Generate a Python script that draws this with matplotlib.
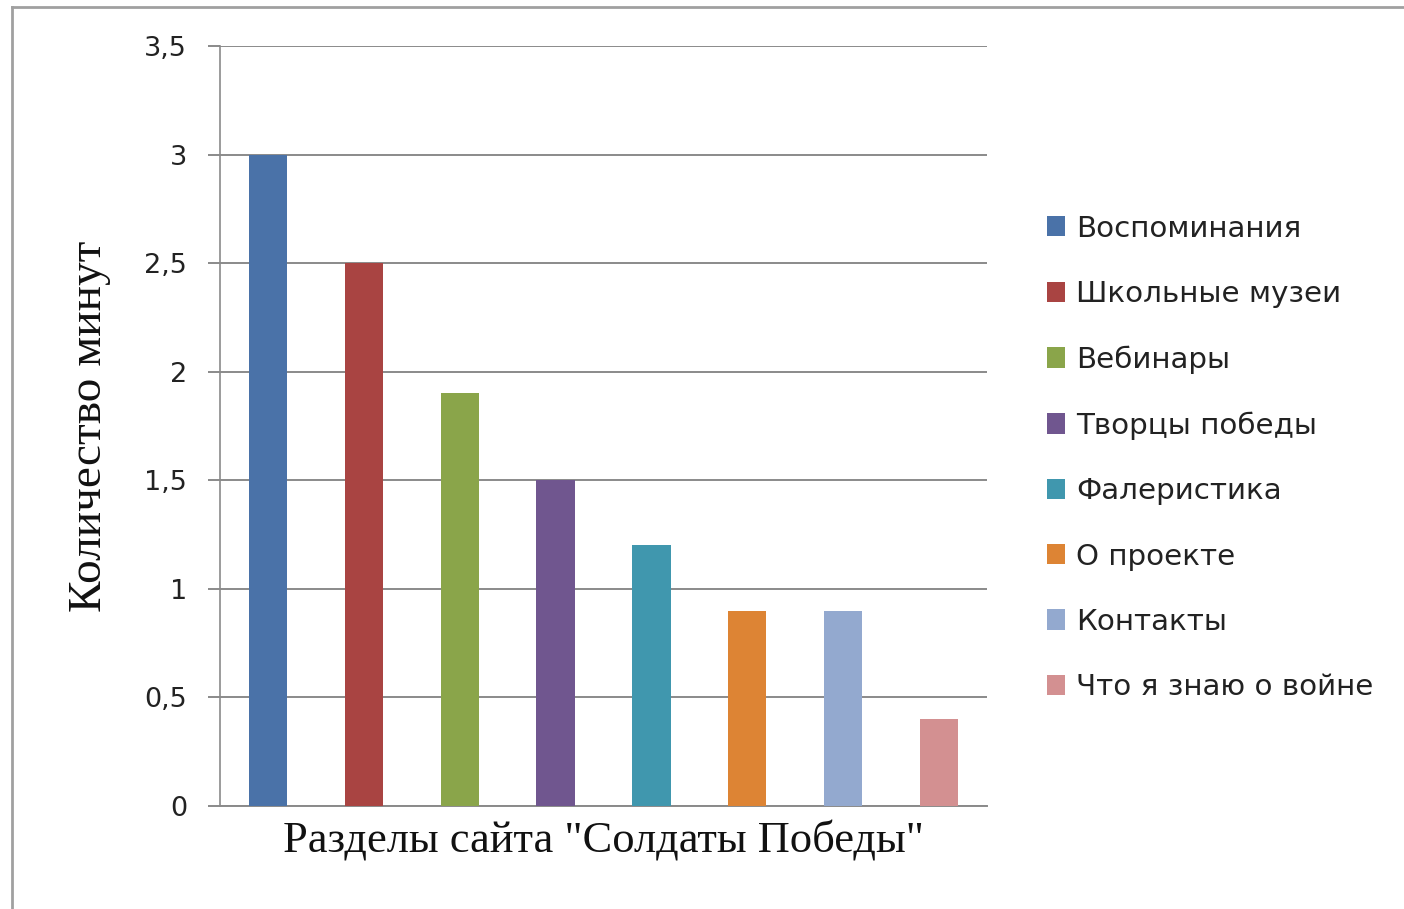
import matplotlib
matplotlib.use("Agg")
import matplotlib.pyplot as plt
from matplotlib.lines import Line2D

categories = ["Воспоминания", "Школьные музеи", "Вебинары", "Творцы победы",
              "Фалеристика", "О проекте", "Контакты", "Что я знаю о войне"]
values = [3.0, 2.5, 1.9, 1.5, 1.2, 0.9, 0.9, 0.4]
colors = ["#4A72A8", "#A94442", "#8AA54A", "#70568F",
          "#4097AE", "#DD8434", "#93A9CF", "#D39091"]
yticks = [0, 0.5, 1, 1.5, 2, 2.5, 3, 3.5]
ytick_labels = ["0", "0,5", "1", "1,5", "2", "2,5", "3", "3,5"]
xlabel = 'Разделы сайта "Солдаты Победы"'
ylabel = "Количество минут"

W, H = 1404, 909
fig = plt.figure(figsize=(W / 100, H / 100), dpi=100)
ax = fig.add_axes([220 / W, 1 - 806 / H, (987 - 220) / W, (806 - 46) / H])

grid_c = "#8A8A8A"
for i, (v, c, lab) in enumerate(zip(values, colors, categories)):
    ax.bar(i, v, width=0.4, color=c, label=lab, zorder=3)

ax.set_xlim(-0.5, len(values) - 0.5)
ax.set_ylim(0, 3.5)
ax.set_yticks(yticks)
ax.set_yticklabels(ytick_labels, fontfamily="DejaVu Sans", fontsize=19.5, color="#222222")
ax.set_xticks([])
ax.yaxis.grid(True, color=grid_c, linewidth=1.4, zorder=0)
ax.tick_params(axis="y", length=8.6, width=1.4, color=grid_c, pad=15)
for s in ["top", "right"]:
    ax.spines[s].set_visible(False)
ax.spines["left"].set_color(grid_c)
ax.spines["left"].set_linewidth(1.2)
ax.spines["bottom"].set_color(grid_c)
ax.spines["bottom"].set_linewidth(1.4)

ax.set_ylabel(ylabel, fontfamily="Liberation Serif", fontsize=34, color="#111111")
ax.yaxis.set_label_coords((90 - 220) / 767, 0.5)
ax.yaxis.label.set_va("center")
ax.set_xlabel(xlabel, fontfamily="Liberation Serif", fontsize=32, color="#111111")
ax.xaxis.set_label_coords(0.5, (806 - 841) / 760)
ax.xaxis.label.set_va("center")

leg = fig.legend(loc="center left", bbox_to_anchor=(1047 / W, 1 - 458 / H),
                 frameon=False, prop={"family": "DejaVu Sans", "size": 21.2},
                 handlelength=0.62, handleheight=0.68, handletextpad=0.36,
                 labelspacing=1.27, borderaxespad=0, borderpad=0)
for t in leg.get_texts():
    t.set_color("#222222")

border_c = "#A0A0A0"
fig.add_artist(Line2D([12 / W, 12 / W], [0, 1 - 7 / H], transform=fig.transFigure,
                      color=border_c, linewidth=2))
fig.add_artist(Line2D([12 / W, 1], [1 - 7 / H, 1 - 7 / H], transform=fig.transFigure,
                      color=border_c, linewidth=2))

fig.savefig("out.png", dpi=100)
